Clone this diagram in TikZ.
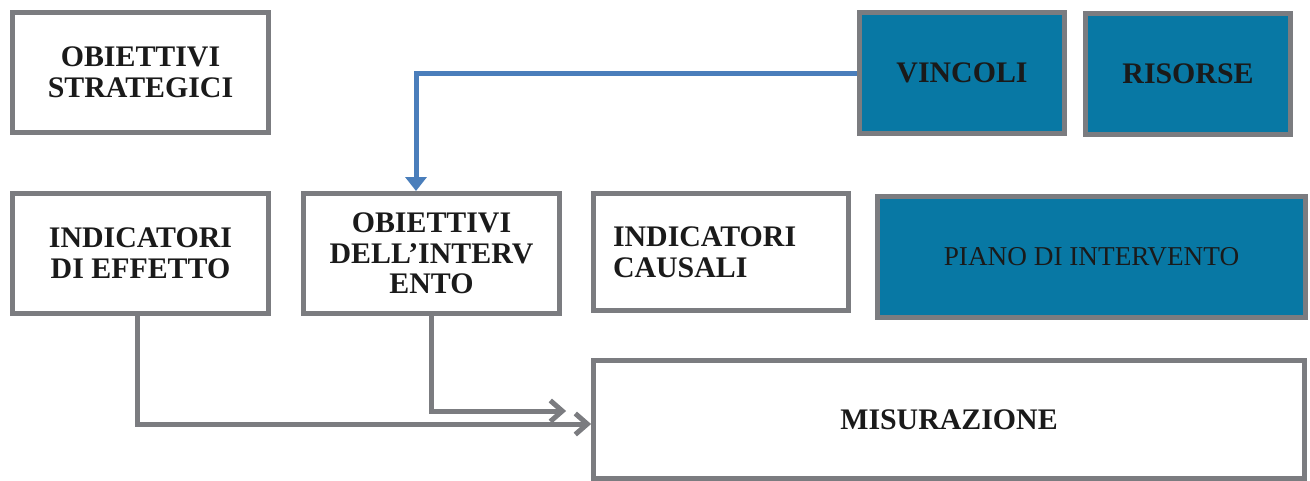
\documentclass[tikz,border=0pt]{standalone}
\usepackage{fontspec}
\setmainfont{Liberation Serif}
\usetikzlibrary{arrows.meta}

\definecolor{boxgray}{HTML}{7B7C80}
\definecolor{boxblue}{HTML}{0878A4}
\definecolor{linkblue}{HTML}{4A7EBB}
\definecolor{inkblack}{HTML}{1A1A1A}

\begin{document}
\begin{tikzpicture}[x=0.02cm,y=-0.02cm,
	box/.style={draw=boxgray, line width=0.1cm, rectangle, inner sep=0pt, align=center,
		text=inkblack, font=\fontsize{17}{17.5}\selectfont\bfseries},
	darkbox/.style={box, fill=boxblue},
	grayarrow/.style={draw=boxgray, line width=0.1cm, -{Straight Barb[length=0.24cm,width=0.42cm]}},
	bluearrow/.style={draw=linkblue, line width=0.1cm, -{Triangle[length=0.28cm,width=0.42cm]}}]
	\useasboundingbox (0,0) rectangle (1310,480);

	%top row
	\node[box, minimum width=5.12cm, minimum height=2.4cm] (strat) at (140.5,72.5) {OBIETTIVI\\STRATEGICI};
	\node[darkbox, minimum width=4.1cm, minimum height=2.42cm] (vinc) at (962,73) {VINCOLI};
	\node[darkbox, minimum width=4.1cm, minimum height=2.42cm] (ris) at (1188,74) {RISORSE};

	%middle row
	\node[box, minimum width=5.12cm, minimum height=2.4cm] (eff) at (140.5,253.5) {INDICATORI\\DI EFFETTO};
	\node[box, minimum width=5.12cm, minimum height=2.4cm] (obint) at (431.5,253.5) {OBIETTIVI\\DELL’INTERV\\ENTO};
	\node[box, minimum width=5.1cm, minimum height=2.34cm, text width=4.32cm, align=left] (caus) at (721,252) {INDICATORI\\CAUSALI};
	\node[darkbox, minimum width=8.56cm, minimum height=2.42cm, font=\fontsize{15.5}{17}\selectfont] (piano) at (1091.5,257) {PIANO DI INTERVENTO};

	%bottom
	\node[box, minimum width=14.22cm, minimum height=2.38cm] (mis) at (949,419.5) {MISURAZIONE};

	%arrows
	\coordinate (tip) at ([xshift=-0.5cm,yshift=0.17cm]mis.west);
	\draw[bluearrow] (vinc.west) -| ([xshift=-0.31cm]obint.north);
	\draw[grayarrow] ([xshift=-0.07cm]eff.south) |- ([yshift=-0.09cm]mis.west);
	\draw[grayarrow] (obint.south) |- (tip);
\end{tikzpicture}
\end{document}
